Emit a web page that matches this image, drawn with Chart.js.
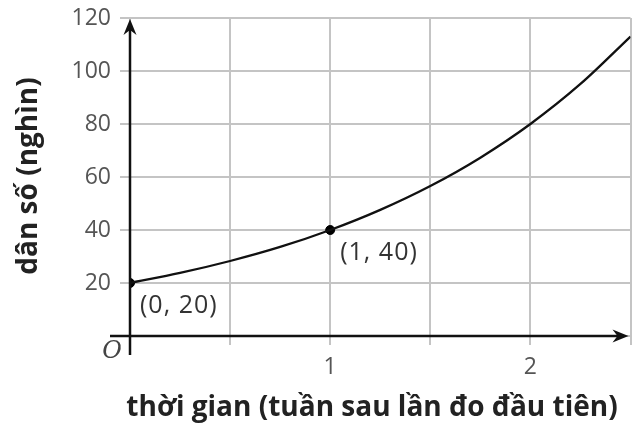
<!DOCTYPE html>
<html>
<head>
<meta charset="utf-8">
<script src="https://cdn.jsdelivr.net/npm/chart.js@4.4.1/dist/chart.umd.min.js"></script>
<style>
  html, body { margin: 0; padding: 0; background: #fff; }
  #wrap { width: 636px; height: 425px; }
</style>
</head>
<body>
<div id="wrap"><canvas id="grafico"></canvas></div>
<script>
// thời gian (tuần) và dân số (nghìn)
const thoiGian = [0, 0.25, 0.5, 0.75, 1, 1.25, 1.5, 1.75, 2, 2.25, 2.5];
const danSo = [20, 23.8, 28.3, 33.6, 40, 47.6, 56.6, 67.3, 80, 95.1, 113];

// các điểm được đánh dấu
const diemX = [0, 1];
const diemY = [20, 40];
const nhanDiem = ['(0, 20)', '(1, 40)'];

// nhãn trục
const nhanTrucX = [1, 2];
const yMin = 0, yMax = 120, yStep = 20;
const xMin = 0, xMax = 2.5, xStep = 0.5;

const tieuDeX = 'thời gian (tuần sau lần đo đầu tiên)';
const tieuDeY = 'dân số (nghìn)';

const FONT = '"Open Sans", "DejaVu Sans", sans-serif';

// Vẽ trục có mũi tên, tiêu đề, nhãn điểm
const trucMuiTen = {
    id: 'trucMuiTen',
    afterDatasetsDraw(chart) {
        const { ctx, chartArea, scales } = chart;
        const x0 = scales.x.getPixelForValue(0);
        const y0 = scales.y.getPixelForValue(0);
        ctx.save();
        ctx.strokeStyle = '#111';
        ctx.fillStyle = '#111';
        ctx.lineWidth = 2.5;

        // trục y
        ctx.beginPath();
        ctx.moveTo(x0, y0 + 19);
        ctx.lineTo(x0, chartArea.top + 8);
        ctx.stroke();
        muiTen(ctx, x0, chartArea.top + 1, -Math.PI / 2);

        // trục x
        ctx.beginPath();
        ctx.moveTo(x0 - 20, y0);
        ctx.lineTo(chartArea.right - 8, y0);
        ctx.stroke();
        muiTen(ctx, chartArea.right - 2, y0, 0);

        // gốc O
        ctx.font = 'italic 24px "DejaVu Serif", serif';
        ctx.fillStyle = '#444';
        ctx.textAlign = 'center';
        ctx.textBaseline = 'middle';
        ctx.fillText('O', x0 - 18, y0 + 16);

        // nhãn điểm
        ctx.font = '25px ' + FONT;
        ctx.fillStyle = '#333';
        ctx.textAlign = 'left';
        ctx.letterSpacing = '1px';
        diemX.forEach((v, i) => {
            const px = scales.x.getPixelForValue(v);
            const py = scales.y.getPixelForValue(diemY[i]);
            ctx.fillText(nhanDiem[i], px + 10, py + 23);
        });
        ctx.letterSpacing = '0px';

        // tiêu đề
        ctx.fillStyle = '#222';
        ctx.font = 'bold 28px ' + FONT;
        ctx.textAlign = 'center';
        ctx.textBaseline = 'alphabetic';
        ctx.fillText(tieuDeX, 372, 416);

        ctx.save();
        ctx.translate(37, 176);
        ctx.rotate(-Math.PI / 2);
        ctx.font = 'bold 28px ' + FONT;
        ctx.fillText(tieuDeY, 0, 0);
        ctx.restore();

        ctx.restore();
    }
};

function muiTen(ctx, x, y, goc) {
    ctx.save();
    ctx.translate(x, y);
    ctx.rotate(goc);
    ctx.beginPath();
    ctx.moveTo(0, 0);
    ctx.lineTo(-16, -6.5);
    ctx.lineTo(-11, 0);
    ctx.lineTo(-16, 6.5);
    ctx.closePath();
    ctx.fill();
    ctx.restore();
}

const ctx = document.getElementById('grafico').getContext('2d');
new Chart(ctx, {
    type: 'line',
    data: {
        datasets: [
            {
                label: 'dân số',
                data: thoiGian.map((t, i) => ({ x: t, y: danSo[i] })),
                borderColor: '#111',
                borderWidth: 2.3,
                pointRadius: 0,
                cubicInterpolationMode: 'monotone',
                fill: false
            },
            {
                label: 'điểm',
                data: diemX.map((t, i) => ({ x: t, y: diemY[i] })),
                showLine: false,
                pointRadius: 4.5,
                pointBackgroundColor: '#000',
                pointBorderColor: '#000'
            }
        ]
    },
    options: {
        responsive: true,
        maintainAspectRatio: false,
        animation: false,
        layout: { padding: { left: 0, right: 3, top: 18, bottom: 0 } },
        plugins: {
            legend: { display: false },
            tooltip: { enabled: false }
        },
        scales: {
            x: {
                type: 'linear',
                min: xMin,
                max: xMax,
                afterFit: s => { s.height = 89; s.paddingLeft = 0; s.paddingRight = 0; },
                ticks: {
                    stepSize: xStep,
                    padding: 9,
                    color: '#555',
                    font: { family: FONT, size: 23 },
                    callback: v => nhanTrucX.includes(v) ? String(v) : ''
                },
                grid: { color: '#c4c4c4', lineWidth: 2, tickLength: 9 },
                border: { display: false }
            },
            y: {
                min: yMin,
                max: yMax,
                afterFit: s => { s.width = 130; s.paddingTop = 0; s.paddingBottom = 0; },
                ticks: {
                    stepSize: yStep,
                    padding: 9,
                    color: '#555',
                    font: { family: FONT, size: 23 },
                    callback: v => v === 0 ? '' : String(v)
                },
                grid: { color: '#c4c4c4', lineWidth: 2, tickLength: 10 },
                border: { display: false }
            }
        }
    },
    plugins: [trucMuiTen]
});
</script>
</body>
</html>
